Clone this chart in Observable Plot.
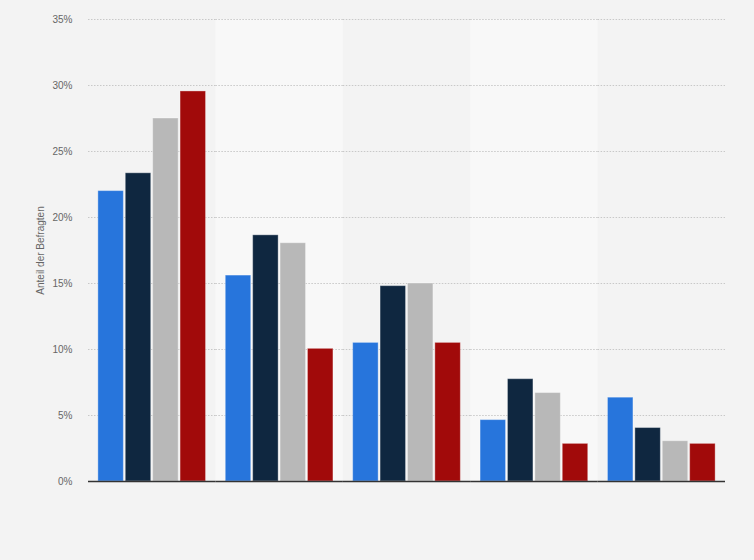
<!DOCTYPE html>
<html>
<head>
<meta charset="utf-8">
<script src="https://cdn.jsdelivr.net/npm/d3@7"></script>
<script src="https://cdn.jsdelivr.net/npm/@observablehq/plot@0.6"></script>
<style>
  html, body { margin: 0; padding: 0; background: #f3f3f3; }
</style>
</head>
<body>
<div id="chart"></div>
<script>
const categories = ["Gruppe 1", "Gruppe 2", "Gruppe 3", "Gruppe 4", "Gruppe 5"];
const series = ["Serie 1", "Serie 2", "Serie 3", "Serie 4"];
const serie1 = [22.0, 15.6, 10.5, 4.65, 6.35];
const serie2 = [23.35, 18.65, 14.8, 7.75, 4.05];
const serie3 = [27.5, 18.05, 15.0, 6.7, 3.05];
const serie4 = [29.55, 10.05, 10.5, 2.85, 2.85];
const yTicks = [0, 5, 10, 15, 20, 25, 30, 35];
const colors = ["#2775dc", "#0f2740", "#b8b8b8", "#a10a0a"];
const shadedCategories = ["Gruppe 2", "Gruppe 4"];

const valuesBySeries = [serie1, serie2, serie3, serie4];
const data = [];
categories.forEach((c, i) => {
  series.forEach((s, j) => {
    data.push({group: c, series: s, value: valuesBySeries[j][i]});
  });
});

const chart = Plot.plot({
  width: 754,
  height: 560,
  marginLeft: 88,
  marginRight: 29,
  marginTop: 19,
  marginBottom: 79,
  style: {background: "#f3f3f3", fontFamily: "'Liberation Sans', Arial, sans-serif", fontSize: "10px", color: "#666"},
  fx: {domain: categories, padding: 0, axis: null, round: false},
  x: {domain: series, axis: null, paddingInner: 0.07, paddingOuter: 0.36, round: false},
  y: {domain: [0, 35]},
  color: {domain: series, range: colors},
  marks: [
    Plot.rect(shadedCategories, {fx: d => d, y1: () => 0, y2: () => 35, fill: "#f8f8f8"}),
    Plot.gridY(yTicks, {stroke: "#c8c8c8", strokeOpacity: 1, strokeDasharray: "1.5,1.5", strokeWidth: 1}),
    Plot.axisY(yTicks, {
      tickSize: 0,
      tickPadding: 16,
      tickFormat: d => d + "%",
      label: "Anteil der Befragten",
      labelAnchor: "center",
      labelArrow: "none",
      labelOffset: 52,
      fill: "#666"
    }),
    Plot.barY(data, {
      fx: "group",
      x: "series",
      y: "value",
      fill: "series",
      stroke: "#ffffff",
      strokeOpacity: 0.35,
      strokeWidth: 1
    }),
    Plot.ruleY([0], {stroke: "#333", strokeWidth: 1.4})
  ]
});

document.getElementById("chart").appendChild(chart);
</script>
</body>
</html>
